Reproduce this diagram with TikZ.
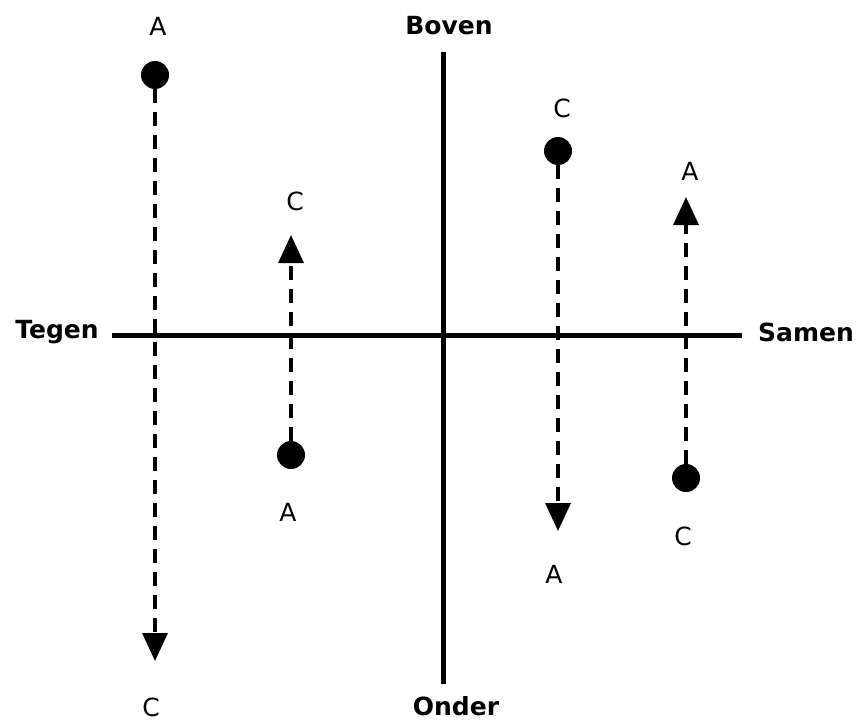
\documentclass[tikz,border=0pt]{standalone}
\usepackage{fontspec}
\setmainfont{DejaVu Sans}
\usetikzlibrary{arrows.meta}
\begin{document}
\begin{tikzpicture}[x=1pt,y=-1pt,
  axis/.style={line width=5pt},
  lbl/.style={font=\fontsize{25}{28}\selectfont, inner sep=0pt},
  axlbl/.style={font=\fontsize{25}{28}\selectfont\bfseries, inner sep=0pt},
  dot/.style={circle, fill=black, minimum size=28pt, inner sep=0pt},
  move/.style={line width=3.5pt, dash pattern=on 14pt off 9pt, -{Triangle[width=25pt,length=28pt]}}]
\useasboundingbox (0,0) rectangle (856,722);
% axes
\coordinate (vt) at (443,52);
\coordinate (vb) at (443,684);
\coordinate (hl) at (112,335);
\coordinate (hr) at (742,335);
\draw[axis] (vt) -- (vb);
\draw[axis] (hl) -- (hr);
\node[axlbl] (boven) at (449,26) {Boven};
\node[axlbl] (onder) at (456,706) {Onder};
\node[axlbl] (tegen) at (57,332) {Tegen};
\node[axlbl] (samen) at (806,332) {Samen};
% point 1
\node[dot] (d1) at (155,75) {};
\coordinate (t1) at (155,661);
\draw[move] (d1) -- (t1);
\node[lbl] (a1) at (158,26) {A};
\node[lbl] (c1) at (151,707) {C};
% point 2
\node[dot] (d2) at (291,455) {};
\coordinate (t2) at (291,235);
\draw[move] (d2) -- (t2);
\node[lbl] (c2) at (295,201) {C};
\node[lbl] (a2) at (288,512) {A};
% point 3
\node[dot] (d3) at (558,151) {};
\coordinate (t3) at (558,531);
\draw[move] (d3) -- (t3);
\node[lbl] (c3) at (562,108) {C};
\node[lbl] (a3) at (554,574) {A};
% point 4
\node[dot] (d4) at (686,478) {};
\coordinate (t4) at (686,197);
\draw[move] (d4) -- (t4);
\node[lbl] (a4) at (690,171) {A};
\node[lbl] (c4) at (683,536) {C};
\end{tikzpicture}
\end{document}
